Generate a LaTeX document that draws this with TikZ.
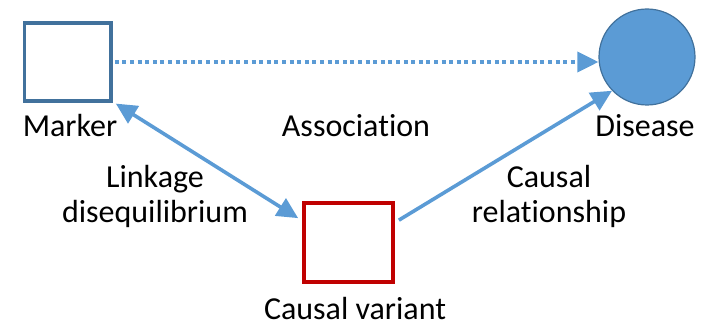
\documentclass[tikz,border=0pt]{standalone}
\usepackage{fontspec}
\setmainfont{Carlito}[RawFeature={-liga;-clig;-dlig}]
\usetikzlibrary{arrows.meta,calc}
\definecolor{linkblue}{HTML}{5B9BD5}
\definecolor{edgeblue}{HTML}{41719C}
\definecolor{boxred}{HTML}{C00000}
\begin{document}
\begin{tikzpicture}[x=1pt,y=-1pt,
  every node/.style={font=\fontsize{32}{35}\selectfont, inner sep=0pt},
  boxnode/.style={draw, line width=3.7pt, fill=white, rectangle},
  label text/.style={anchor=base, align=center},
  link/.style={draw=linkblue, line width=3.6pt,
    -{Triangle[length=21pt,width=20pt]}},
  both link/.style={draw=linkblue, line width=3.6pt,
    {Triangle[length=21pt,width=20pt]}-{Triangle[length=21pt,width=20pt]}}]
  \useasboundingbox (0,0) rectangle (711,323);

  % the three elements
  \node[boxnode, draw=edgeblue, minimum width=86.5pt, minimum height=78.5pt] (marker) at (67.7,62) {};
  \node[boxnode, draw=boxred, minimum width=89pt, minimum height=79pt] (variant) at (348.5,242.5) {};
  \node[circle, draw=edgeblue, line width=1.2pt, fill=linkblue, minimum size=96pt] (disease) at (647,57) {};

  % captions (base anchor of a two-line node is its last line)
  \node[label text] (tmarker) at (70,137) {Marker};
  \node[label text] (tassoc) at (356,137) {Association};
  \node[label text] (tdisease) at (645,137) {Disease};
  \node[label text] (tld) at (155,222) {Linkage\\disequilibrium};
  \node[label text] (tcausal) at (549,222) {Causal\\relationship};
  \node[label text] (tvariant) at (355,319) {Causal variant};

  % connectors
  \draw[link, dash pattern=on 4pt off 3.6pt, line cap=butt]
    ($(marker.east)+(2,0)$) -- (marker.east -| disease.west);
  \draw[both link] ($(marker.south east)+(3,0.5)$) -- ($(variant.north west)+(-4,17)$);
  \draw[link] ($(variant.north east)+(4,19)$) -- (disease.224);
\end{tikzpicture}
\end{document}
